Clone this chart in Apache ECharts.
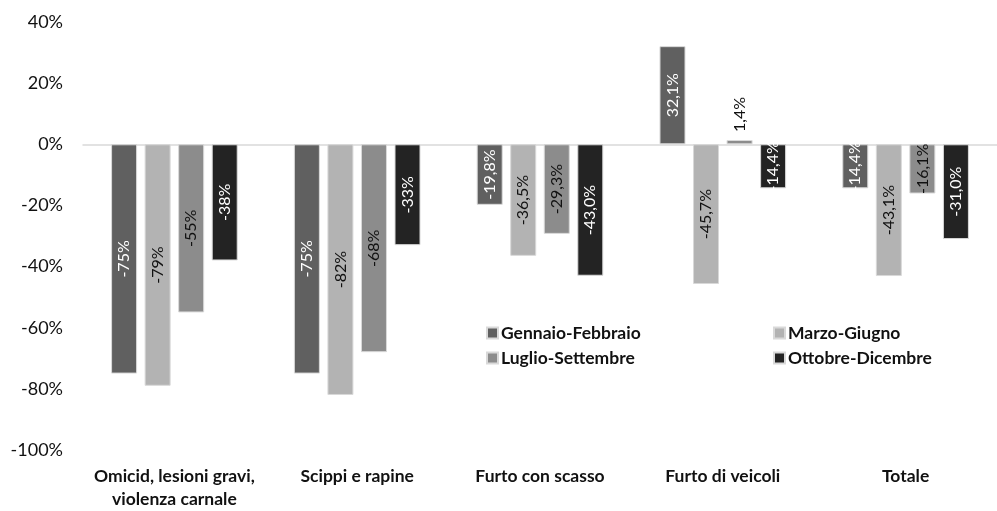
<!DOCTYPE html>
<html>
<head>
<meta charset="utf-8">
<script src="https://cdn.jsdelivr.net/npm/echarts@6/dist/echarts.min.js"></script>
<style>html,body{margin:0;padding:0;background:#fff;}#c{width:997px;height:511px;}</style>
</head>
<body>
<div id="c"></div>
<script>
const categories = ['Omicid, lesioni gravi,\nviolenza carnale', 'Scippi e rapine', 'Furto con scasso', 'Furto di veicoli', 'Totale'];
const labelDecimals = [0, 0, 1, 1, 1];
const gennaioFebbraio = [-75, -75, -19.8, 32.1, -14.4];
const marzoGiugno = [-79, -82, -36.5, -45.7, -43.1];
const luglioSettembre = [-55, -68, -29.3, 1.4, -16.1];
const ottobreDicembre = [-38, -33, -43.0, -14.4, -31.0];
const yTicks = [-100, -80, -60, -40, -20, 0, 20, 40];

const seriesNames = ['Gennaio-Febbraio', 'Marzo-Giugno', 'Luglio-Settembre', 'Ottobre-Dicembre'];
const seriesData = [gennaioFebbraio, marzoGiugno, luglioSettembre, ottobreDicembre];
const colors = ['#606060', '#b3b3b3', '#8c8c8c', '#232323'];
const labelColors = ['#ffffff', '#111111', '#111111', '#ffffff'];
const FONT = 'Lato';

function fmt(v, i) {
  return v.toFixed(labelDecimals[i]).replace('.', ',') + '%';
}

const series = seriesData.map((arr, s) => ({
  name: seriesNames[s],
  type: 'bar',
  barWidth: 26,
  barGap: '29%',
  itemStyle: { color: colors[s], borderColor: '#d9d9d9', borderWidth: 1 },
  data: arr.map((v, i) => {
    const small = Math.abs(v) < 5;
    return {
      value: v,
      label: small ? { position: 'top', align: 'left', verticalAlign: 'middle', distance: 8, color: '#111' } : {}
    };
  }),
  label: {
    show: true,
    position: 'inside',
    rotate: 90,
    color: labelColors[s],
    fontFamily: FONT,
    fontSize: 16,
    formatter: p => fmt(p.value, p.dataIndex)
  }
}));

const legendPos = [[486, 324], [773, 324], [486, 349], [773, 349]];
const legends = seriesNames.map((n, s) => ({
  data: [n],
  left: legendPos[s][0],
  top: legendPos[s][1],
  padding: 0,
  orient: 'horizontal',
  itemWidth: 11,
  itemHeight: 11,
  itemGap: 4,
  icon: 'rect',
  textStyle: { fontFamily: FONT, fontSize: 17.5, fontWeight: 'bold', color: '#111', padding: [0, 0, 0, -2] }
}));

const chart = echarts.init(document.getElementById('c'), null, { renderer: 'canvas' });
chart.setOption({
  animation: false,
  color: colors,
  legend: legends,
  grid: { left: 83, right: -9, top: 22, bottom: 61, containLabel: false },
  xAxis: {
    type: 'category',
    data: categories,
    axisLine: { show: true, onZero: true, lineStyle: { color: '#d9d9d9', width: 1.5 } },
    axisTick: { show: false },
    axisLabel: {
      interval: 0,
      margin: 15,
      fontFamily: FONT,
      fontSize: 17.5,
      fontWeight: 'bold',
      color: '#111',
      lineHeight: 23
    },
    position: 'bottom'
  },
  yAxis: {
    type: 'value',
    min: yTicks[0],
    max: yTicks[yTicks.length - 1],
    interval: 20,
    axisLine: { show: false },
    axisTick: { show: false },
    splitLine: { show: false },
    axisLabel: {
      margin: 20,
      fontFamily: FONT,
      fontSize: 18,
      color: '#111',
      formatter: v => v + '%'
    }
  },
  series: series
});
</script>
</body>
</html>
